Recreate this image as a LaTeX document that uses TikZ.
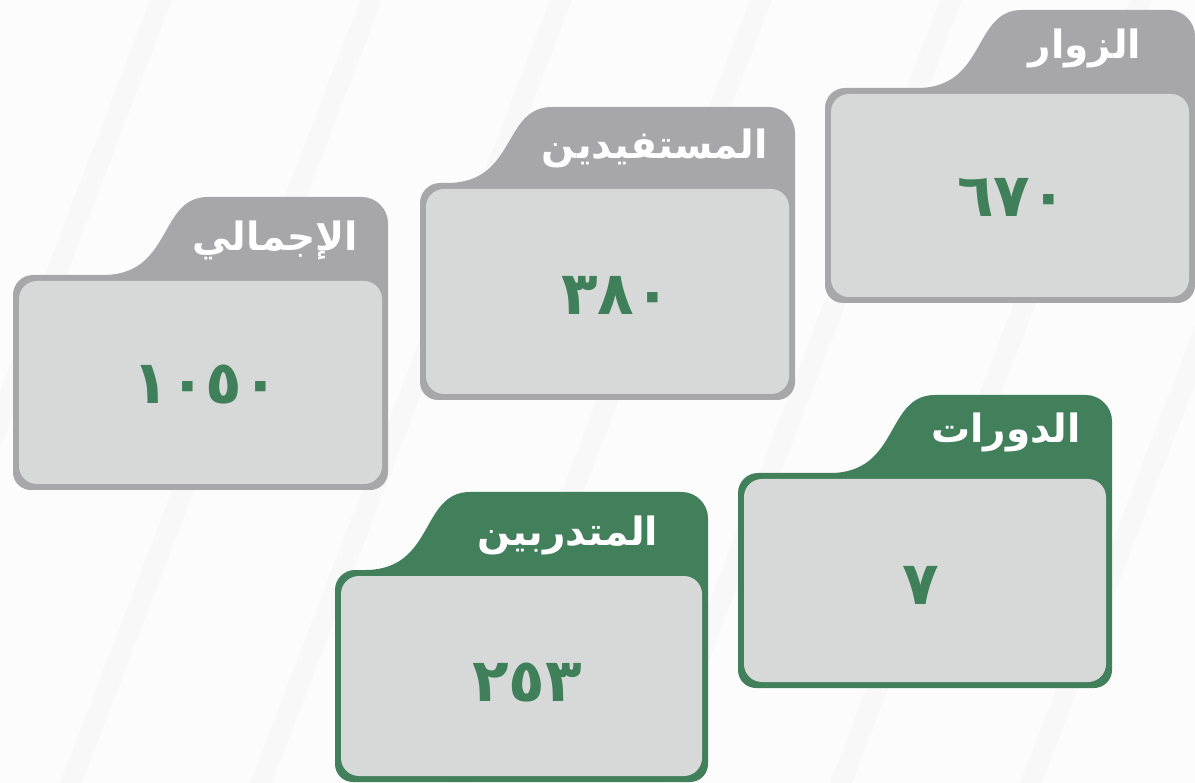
\documentclass[tikz,border=0pt]{standalone}
\usepackage{fontspec}
\newfontfamily\arabicfont[Script=Arabic]{DejaVu Sans}
\TeXXeTstate=1
\definecolor{bgcol}{HTML}{FCFCFC}
\definecolor{stripecol}{HTML}{F8F8F8}
\definecolor{tabgray}{HTML}{A7A7AA}
\definecolor{tabgreen}{HTML}{427F5B}
\definecolor{innercol}{HTML}{D7D9D8}
\definecolor{numgreen}{HTML}{3F7F59}
\tikzset{
  labeltext/.style={text=white, inner sep=0pt, font=\arabicfont\bfseries\fontsize{39}{46}\selectfont},
  numtext/.style={text=numgreen, inner sep=0pt, font=\arabicfont\bfseries\fontsize{60}{70}\selectfont},
  innerbox/.style={fill=innercol, rounded corners=18pt},
}
% #1 left, #2 tab top, #3 body top, #4 right, #5 bottom, #6 curve start x, #7 colour
\newcommand\foldercard[7]{%
  \fill[#7] (#6,#3)
    .. controls ({#6+70},#3) and ({#6+55},#2) .. ({#6+105},#2)
    -- ({#4-26},#2) .. controls ({#4-12},#2) and (#4,{#2+12}) .. (#4,{#2+26})
    -- (#4,{#5-18}) .. controls (#4,{#5-8}) and ({#4-8},#5) .. ({#4-18},#5)
    -- ({#1+18},#5) .. controls ({#1+8},#5) and (#1,{#5-8}) .. (#1,{#5-18})
    -- (#1,{#3+20}) .. controls (#1,{#3+9}) and ({#1+9},#3) .. ({#1+20},#3)
    -- cycle;
  \fill[innerbox] ({#1+6},{#3+6}) rectangle ({#4-6},{#5-6});
}
\begin{document}
\begin{tikzpicture}[x=1pt,y=-1pt]
\fill[bgcol] (0,0) rectangle (1195,783);
\useasboundingbox (0,0) rectangle (1195,783);
% faint background streaks
\foreach \a in {-150,60,250,450,640,830,1020}{
  \fill[stripecol] (\a,783) -- (\a+22,783) -- (\a+322,0) -- (\a+300,0) -- cycle;
}
% cards
\foldercard{825}{10}{88}{1195}{303}{917}{tabgray}
\foldercard{420}{107}{183}{795}{400}{447}{tabgray}
\foldercard{13}{197}{275}{388}{490}{103}{tabgray}
\foldercard{738}{395}{473}{1112}{688}{830}{tabgreen}
\foldercard{335}{492}{570}{708}{782}{365}{tabgreen}
% labels
\node[labeltext] (lab1) at (1085,48) {\beginR الزوار\endR};
\node[labeltext] (lab2) at (655,148) {\beginR المستفيدين\endR};
\node[labeltext] (lab3) at (275,240) {\beginR الإجمالي\endR};
\node[labeltext] (lab4) at (1006,432) {\beginR الدورات\endR};
\node[labeltext] (lab5) at (568,535) {\beginR المتدربين\endR};
% numbers
\node[numtext] (num1) at (1012,197) {٦٧٠};
\node[numtext] (num2) at (616,295) {٣٨٠};
\node[numtext] (num3) at (206,385) {١٠٥٠};
\node[numtext] (num4) at (921,585) {٧};
\node[numtext] (num5) at (527,683) {٢٥٣};
\end{tikzpicture}
\end{document}
